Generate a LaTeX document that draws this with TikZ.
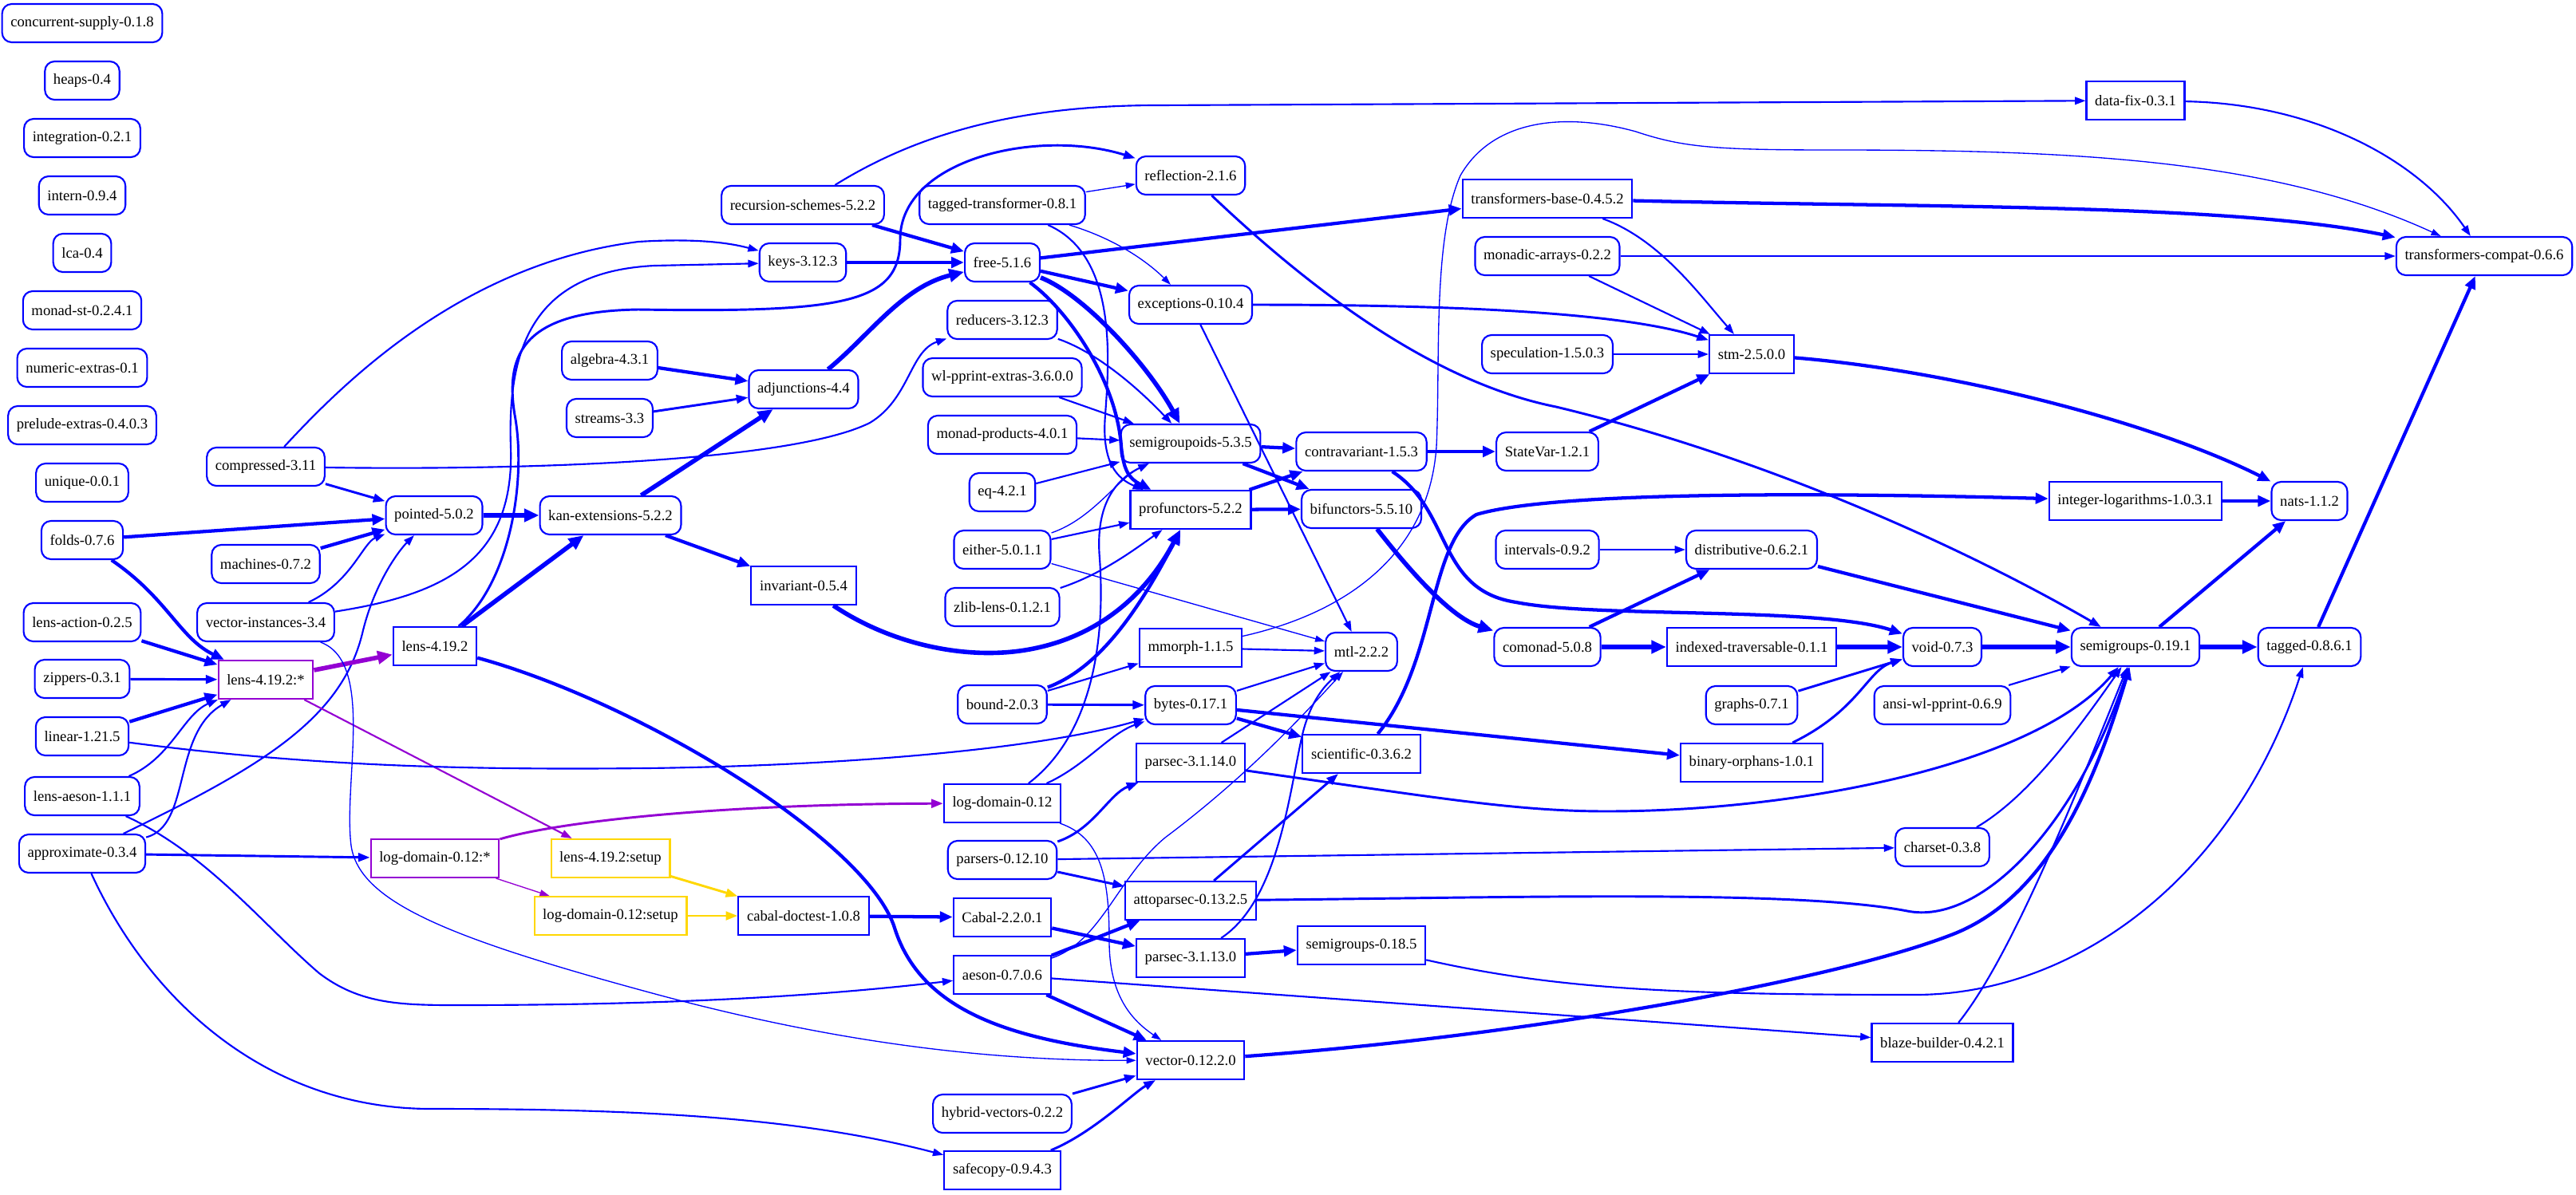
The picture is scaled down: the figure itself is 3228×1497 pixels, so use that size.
\documentclass[tikz,border=0pt]{standalone}
\usepackage{fontspec}
\setmainfont{Liberation Serif}
\usetikzlibrary{arrows.meta}
\definecolor{pkgblue}{RGB}{0,0,255}
\definecolor{pkgviolet}{RGB}{148,0,211}
\definecolor{pkggold}{RGB}{255,215,0}
\newcommand\pkgfont{\fontsize{14}{16}\selectfont}
\tikzset{
  pkg/.style={draw=pkgblue, line width=1.6pt, rounded corners=9pt, minimum height=36pt,
    minimum width=54pt, inner xsep=8pt, inner ysep=0pt, font=\pkgfont},
  pkgrect/.style={pkg, sharp corners},
  pkgtarget/.style={pkgrect, draw=pkgviolet},
  pkgsetup/.style={pkgrect, draw=pkggold},
  dep/.style={draw=pkgblue, line width=1.6pt, -{Triangle[length=10pt,width=7pt]}},
  depthin/.style={dep, line width=1pt, -{Triangle[length=9pt,width=6pt]}},
  depmid/.style={dep, line width=2.2pt, -{Triangle[length=11pt,width=8pt]}},
  depthick/.style={dep, line width=3.2pt, -{Triangle[length=12pt,width=10pt]}},
  depheavy/.style={dep, line width=4.2pt, -{Triangle[length=14pt,width=12pt]}}
}
\begin{document}
\begin{tikzpicture}[x=0.75pt,y=-0.75pt]
\useasboundingbox (0,0) rectangle (3228,1497);
%% first column, the packages nobody needs
\node[pkg] (concurrentsupply) at (103,29) {concurrent-supply-0.1.8};
\node[pkg] (heaps) at (103,101) {heaps-0.4};
\node[pkg] (integration) at (103,173) {integration-0.2.1};
\node[pkg] (intern) at (103,245) {intern-0.9.4};
\node[pkg] (lca) at (103,317) {lca-0.4};
\node[pkg] (monadst) at (103,389) {monad-st-0.2.4.1};
\node[pkg] (numericextras) at (103,461) {numeric-extras-0.1};
\node[pkg] (preludeextras) at (103,533) {prelude-extras-0.4.0.3};
\node[pkg] (unique) at (103,605) {unique-0.0.1};
\node[pkg] (folds) at (103,677) {folds-0.7.6};
\node[pkg] (lensaction) at (103,780) {lens-action-0.2.5};
\node[pkg] (zippers) at (103,851) {zippers-0.3.1};
\node[pkg] (linear) at (103,923) {linear-1.21.5};
\node[pkg] (lensaeson) at (103,998) {lens-aeson-1.1.1};
\node[pkg] (approximate) at (103,1070) {approximate-0.3.4};
%% second and third column
\node[pkg] (compressed) at (333,585) {compressed-3.11};
\node[pkg] (machines) at (333,707) {machines-0.7.2};
\node[pkg] (vectorinstances) at (333,780) {vector-instances-3.4};
\node[pkgtarget] (lensstar) at (333,852) {lens-4.19.2:*};
\node[pkg] (pointed) at (544,646) {pointed-5.0.2};
\node[pkgrect] (lens) at (545,810) {lens-4.19.2};
\node[pkgtarget] (logdomstar) at (545,1076) {log-domain-0.12:*};
%% fourth and fifth column
\node[pkg] (algebra) at (764,452) {algebra-4.3.1};
\node[pkg] (streams) at (764,524) {streams-3.3};
\node[pkg] (kan) at (765,646) {kan-extensions-5.2.2};
\node[pkgsetup] (lenssetup) at (765,1076) {lens-4.19.2:setup};
\node[pkgsetup] (logdomsetup) at (765,1148) {log-domain-0.12:setup};
\node[pkg] (recursion) at (1006,257) {recursion-schemes-5.2.2};
\node[pkg] (keys) at (1006,329) {keys-3.12.3};
\node[pkg] (adjunctions) at (1007,488) {adjunctions-4.4};
\node[pkgrect] (invariant) at (1007,734) {invariant-0.5.4};
\node[pkgrect] (cabaldoctest) at (1007,1148) {cabal-doctest-1.0.8};
%% sixth column
\node[pkg] (taggedtrans) at (1256,257) {tagged-transformer-0.8.1};
\node[pkg] (free) at (1256,329) {free-5.1.6};
\node[pkg] (reducers) at (1256,401) {reducers-3.12.3};
\node[pkg] (wlpprintextras) at (1256,473) {wl-pprint-extras-3.6.0.0};
\node[pkg] (monadproducts) at (1256,545) {monad-products-4.0.1};
\node[pkg] (eq) at (1256,617) {eq-4.2.1};
\node[pkg] (either) at (1256,689) {either-5.0.1.1};
\node[pkg] (zliblens) at (1256,761) {zlib-lens-0.1.2.1};
\node[pkg] (bound) at (1256,883) {bound-2.0.3};
\node[pkgrect] (logdomain) at (1256,1007) {log-domain-0.12};
\node[pkg] (parsers) at (1256,1078) {parsers-0.12.10};
\node[pkgrect] (cabal) at (1256,1150) {Cabal-2.2.0.1};
\node[pkgrect] (aeson) at (1256,1222) {aeson-0.7.0.6};
\node[pkg] (hybrid) at (1256,1396) {hybrid-vectors-0.2.2};
\node[pkgrect] (safecopy) at (1256,1467) {safecopy-0.9.4.3};
%% seventh column
\node[pkg] (reflection) at (1492,220) {reflection-2.1.6};
\node[pkg] (exceptions) at (1492,382) {exceptions-0.10.4};
\node[pkg] (semigroupoids) at (1492,556) {semigroupoids-5.3.5};
\node[pkgrect] (profunctors) at (1492,639) {profunctors-5.2.2};
\node[pkgrect] (mmorph) at (1492,812) {mmorph-1.1.5};
\node[pkg] (bytes) at (1492,884) {bytes-0.17.1};
\node[pkgrect] (parsec14) at (1492,956) {parsec-3.1.14.0};
\node[pkgrect] (attoparsec) at (1492,1129) {attoparsec-0.13.2.5};
\node[pkgrect] (parsec13) at (1492,1201) {parsec-3.1.13.0};
\node[pkgrect] (vector) at (1492,1329) {vector-0.12.2.0};
%% eighth and ninth column
\node[pkg] (contravariant) at (1706,566) {contravariant-1.5.3};
\node[pkg] (bifunctors) at (1706,638) {bifunctors-5.5.10};
\node[pkg] (mtl) at (1706,817) {mtl-2.2.2};
\node[pkgrect] (scientific) at (1706,945) {scientific-0.3.6.2};
\node[pkgrect] (semigroups185) at (1706,1185) {semigroups-0.18.5};
\node[pkgrect] (transformersbase) at (1939,249) {transformers-base-0.4.5.2};
\node[pkg] (monadicarrays) at (1939,321) {monadic-arrays-0.2.2};
\node[pkg] (speculation) at (1939,444) {speculation-1.5.0.3};
\node[pkg] (statevar) at (1939,566) {StateVar-1.2.1};
\node[pkg] (intervals) at (1939,689) {intervals-0.9.2};
\node[pkg] (comonad) at (1939,811) {comonad-5.0.8};
%% right part
\node[pkgrect] (stm) at (2195,444) {stm-2.5.0.0};
\node[pkg] (distributive) at (2195,689) {distributive-0.6.2.1};
\node[pkgrect] (indexedtrav) at (2195,811) {indexed-traversable-0.1.1};
\node[pkg] (graphs) at (2195,884) {graphs-0.7.1};
\node[pkgrect] (binaryorphans) at (2195,956) {binary-orphans-1.0.1};
\node[pkg] (void) at (2434,811) {void-0.7.3};
\node[pkg] (ansiwl) at (2434,884) {ansi-wl-pprint-0.6.9};
\node[pkg] (charset) at (2434,1062) {charset-0.3.8};
\node[pkgrect] (blaze) at (2434,1307) {blaze-builder-0.4.2.1};
\node[pkgrect] (datafix) at (2676,126) {data-fix-0.3.1};
\node[pkgrect] (intlog) at (2676,628) {integer-logarithms-1.0.3.1};
\node[pkg] (semigroups191) at (2676,811) {semigroups-0.19.1};
\node[pkg] (nats) at (2894,628) {nats-1.1.2};
\node[pkg] (tagged) at (2894,811) {tagged-0.8.6.1};
\node[pkg] (transcompat) at (3113,321) {transformers-compat-0.6.6};

%% into lens-4.19.2:*
\draw[depthick] (folds) .. controls (210,750) and (225,800) .. (lensstar);
\draw[depthick] (lensaction) -- (lensstar);
\draw[depmid] (zippers) -- (lensstar);
\draw[depthick] (linear) -- (lensstar);
\draw[dep] (lensaeson) .. controls (215,950) and (230,895) .. (lensstar);
\draw[dep] (approximate) .. controls (240,1035) and (215,920) .. (lensstar);
%% into pointed
\draw[depmid] (compressed) -- (pointed);
\draw[depthick] (folds) -- (pointed);
\draw[depthick] (machines) -- (pointed);
\draw[dep] (vectorinstances) .. controls (440,730) and (455,680) .. (pointed);
\draw[dep] (approximate) .. controls (330,960) and (430,900) .. (455,790) .. controls (470,730) and (500,690) .. (pointed);
%% targets and setups
\draw[depheavy, draw=pkgviolet] (lensstar) -- (lens);
\draw[dep, draw=pkgviolet] (lensstar) -- (lenssetup);
\draw[depmid] (approximate) -- (logdomstar);
\draw[depmid, draw=pkgviolet] (logdomstar) .. controls (700,1030) and (900,1008) .. (logdomain);
\draw[depthin, draw=pkgviolet] (logdomstar) -- (logdomsetup);
\draw[depmid, draw=pkggold] (lenssetup) -- (cabaldoctest);
\draw[depmid, draw=pkggold] (logdomsetup) -- (cabaldoctest);
\draw[depthick] (cabaldoctest) -- (cabal);
\draw[depthick] (cabal) -- (parsec13);
%% kan-extensions and adjunctions
\draw[depheavy] (pointed) -- (kan);
\draw[depheavy] (lens) -- (kan);
\draw[depheavy] (kan) -- (adjunctions);
\draw[depthick] (kan) -- (invariant);
\draw[depthick] (algebra) -- (adjunctions);
\draw[depmid] (streams) -- (adjunctions);
\draw[depheavy] (adjunctions) .. controls (1090,420) and (1130,360) .. (free);
\draw[depheavy] (invariant) .. controls (1120,810) and (1220,830) .. (1300,812) .. controls (1400,790) and (1450,720) .. (profunctors);
%% keys, free and reflection
\draw[dep] (compressed) .. controls (430,480) and (580,330) .. (800,303) .. controls (880,298) and (920,306) .. (keys);
\draw[dep] (vectorinstances) .. controls (560,745) and (645,700) .. (640,560) .. controls (635,420) and (680,340) .. (820,333) -- (keys);
\draw[depmid] (lens) .. controls (640,730) and (660,600) .. (645,520) .. controls (632,440) and (660,390) .. (800,388) .. controls (1060,392) and (1128,380) .. (1128,300) .. controls (1128,200) and (1300,160) .. (reflection);
\draw[dep] (compressed) .. controls (700,590) and (1000,575) .. (1090,530) .. controls (1140,500) and (1140,440) .. (reducers);
\draw[depthick] (keys) -- (free);
\draw[depthick] (recursion) -- (free);
\draw[dep] (recursion) .. controls (1130,180) and (1250,132) .. (1450,132) -- (datafix);
\draw[depthin] (taggedtrans) -- (reflection);
\draw[depthin] (taggedtrans) .. controls (1400,300) and (1440,330) .. (exceptions);
\draw[dep] (taggedtrans) .. controls (1400,320) and (1390,450) .. (1385,520) .. controls (1380,580) and (1400,600) .. (profunctors);
\draw[depthick] (free) -- (transformersbase);
\draw[depthick] (free) -- (exceptions);
\draw[depheavy] (free) .. controls (1360,370) and (1440,460) .. (semigroupoids);
\draw[depthick] (free) .. controls (1340,390) and (1400,480) .. (1405,560) .. controls (1408,590) and (1415,600) .. (profunctors);
%% semigroupoids and profunctors
\draw[dep] (reducers) .. controls (1370,440) and (1420,480) .. (semigroupoids);
\draw[dep] (wlpprintextras) -- (semigroupoids);
\draw[dep] (monadproducts) -- (semigroupoids);
\draw[dep] (eq) -- (semigroupoids);
\draw[depthin] (either) .. controls (1370,650) and (1400,600) .. (semigroupoids);
\draw[dep] (either) -- (profunctors);
\draw[depthin] (either) -- (mtl);
\draw[dep] (zliblens) .. controls (1380,720) and (1420,690) .. (profunctors);
\draw[depthick] (bound) .. controls (1370,840) and (1420,780) .. (profunctors);
\draw[dep] (bound) -- (mmorph);
\draw[depmid] (bound) -- (bytes);
\draw[dep] (logdomain) .. controls (1370,920) and (1385,800) .. (1378,700) .. controls (1372,630) and (1400,600) .. (semigroupoids);
\draw[dep] (logdomain) .. controls (1360,960) and (1390,920) .. (bytes);
\draw[depthick] (semigroupoids) -- (contravariant);
\draw[depthick] (semigroupoids) -- (bifunctors);
\draw[depthick] (profunctors) -- (contravariant);
\draw[depthick] (profunctors) -- (bifunctors);
%% contravariant, comonad, void
\draw[depthick] (contravariant) -- (statevar);
\draw[depthick] (contravariant) .. controls (1820,640) and (1800,740) .. (1900,755) .. controls (2000,775) and (2280,760) .. (void);
\draw[depheavy] (bifunctors) .. controls (1770,720) and (1820,775) .. (comonad);
\draw[dep] (intervals) -- (distributive);
\draw[depthick] (comonad) -- (distributive);
\draw[depheavy] (comonad) -- (indexedtrav);
\draw[depheavy] (indexedtrav) -- (void);
\draw[depthick] (distributive) -- (semigroups191);
\draw[depmid] (graphs) -- (void);
\draw[depmid] (binaryorphans) .. controls (2330,890) and (2340,840) .. (void);
\draw[depheavy] (void) -- (semigroups191);
\draw[dep] (ansiwl) -- (semigroups191);
\draw[depthick] (semigroups191) -- (nats);
\draw[depheavy] (semigroups191) -- (tagged);
\draw[depthick] (intlog) -- (nats);
\draw[depthick] (tagged) -- (transcompat);
%% stm and transformers-compat
\draw[depthick] (statevar) -- (stm);
\draw[depmid] (exceptions) .. controls (1800,382) and (2030,390) .. (stm);
\draw[dep] (exceptions) -- (mtl);
\draw[depmid] (reflection) .. controls (1650,370) and (1800,480) .. (1950,510) .. controls (2200,570) and (2450,680) .. (semigroups191);
\draw[dep] (transformersbase) .. controls (2080,300) and (2130,370) .. (stm);
\draw[depthick] (transformersbase) .. controls (2400,260) and (2800,255) .. (transcompat);
\draw[dep] (monadicarrays) -- (stm);
\draw[dep] (monadicarrays) -- (transcompat);
\draw[dep] (speculation) -- (stm);
\draw[dep] (datafix) .. controls (2900,130) and (3030,200) .. (transcompat);
\draw[depthick] (stm) .. controls (2450,465) and (2700,530) .. (nats);
\draw[dep] (mmorph) -- (mtl);
\draw[depthin] (mmorph) .. controls (1680,770) and (1790,700) .. (1800,560) .. controls (1805,450) and (1795,300) .. (1830,220) .. controls (1870,150) and (1960,140) .. (2050,165) .. controls (2110,185) and (2150,188) .. (2300,188) .. controls (2600,188) and (2850,200) .. (transcompat);
%% bytes, scientific and parsers
\draw[dep] (linear) .. controls (400,962) and (600,965) .. (810,963) .. controls (1050,960) and (1300,940) .. (bytes);
\draw[depthick] (bytes) -- (binaryorphans);
\draw[depthick] (bytes) -- (scientific);
\draw[dep] (bytes) -- (mtl);
\draw[depthick] (scientific) .. controls (1800,830) and (1790,680) .. (1850,645) .. controls (1950,615) and (2300,618) .. (intlog);
\draw[depmid] (attoparsec) -- (scientific);
\draw[dep] (parsec14) -- (mtl);
\draw[depmid] (parsec14) .. controls (1800,1000) and (1900,1017) .. (2013,1017) .. controls (2250,1017) and (2550,960) .. (semigroups191);
\draw[depmid] (parsers) .. controls (1370,1040) and (1390,995) .. (parsec14);
\draw[dep] (parsers) -- (charset);
\draw[depmid] (parsers) -- (attoparsec);
\draw[depmid] (attoparsec) .. controls (1900,1125) and (2250,1115) .. (2390,1142) .. controls (2480,1160) and (2600,1040) .. (semigroups191);
\draw[depthick] (parsec13) -- (semigroups185);
\draw[dep] (parsec13) .. controls (1600,1130) and (1615,1000) .. (1630,930) .. controls (1640,880) and (1660,860) .. (mtl);
\draw[dep] (semigroups185) .. controls (1950,1240) and (2100,1247) .. (2400,1247) .. controls (2600,1247) and (2800,1100) .. (tagged);
%% aeson and vector
\draw[depthick] (aeson) -- (attoparsec);
\draw[dep] (aeson) -- (blaze);
\draw[depthick] (aeson) -- (vector);
\draw[depthin] (aeson) .. controls (1380,1180) and (1400,1100) .. (1460,1050) .. controls (1560,975) and (1630,900) .. (mtl);
\draw[depthin] (logdomain) .. controls (1380,1050) and (1390,1100) .. (1390,1180) .. controls (1390,1250) and (1420,1280) .. (vector);
\draw[depmid] (hybrid) -- (vector);
\draw[depmid] (safecopy) .. controls (1370,1420) and (1420,1370) .. (vector);
\draw[depthick] (lens) .. controls (800,880) and (1080,1050) .. (1120,1160) .. controls (1150,1260) and (1250,1300) .. (vector);
\draw[depthin] (vectorinstances) .. controls (470,830) and (430,980) .. (440,1060) .. controls (450,1130) and (560,1175) .. (810,1243) .. controls (1000,1295) and (1200,1330) .. (vector);
\draw[dep] (approximate) .. controls (190,1260) and (340,1390) .. (540,1390) .. controls (800,1390) and (1000,1400) .. (safecopy);
\draw[dep] (lensaeson) .. controls (260,1070) and (330,1160) .. (400,1220) .. controls (450,1258) and (500,1260) .. (570,1260) .. controls (800,1260) and (1000,1252) .. (aeson);
\draw[depthick] (vector) .. controls (1900,1300) and (2300,1230) .. (2450,1170) .. controls (2560,1125) and (2620,1000) .. (semigroups191);
\draw[dep] (blaze) .. controls (2520,1200) and (2600,1000) .. (semigroups191);
\draw[dep] (charset) .. controls (2540,1000) and (2600,920) .. (semigroups191);
\end{tikzpicture}
\end{document}
